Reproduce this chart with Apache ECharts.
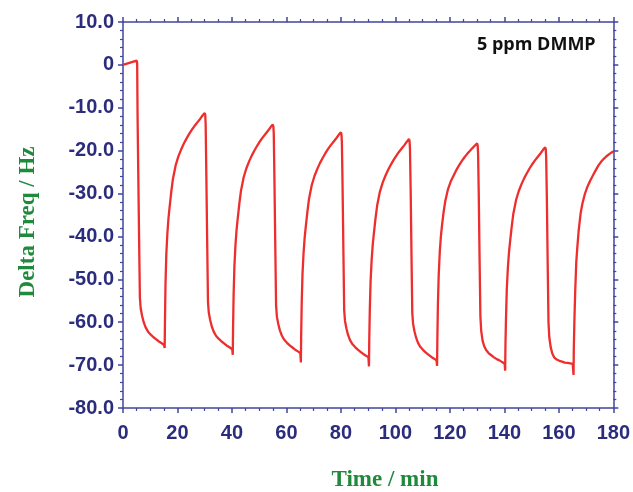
<!DOCTYPE html>
<html>
<head>
<meta charset="utf-8">
<script src="https://cdn.jsdelivr.net/npm/echarts@6/dist/echarts.min.js"></script>
<style>html,body{margin:0;padding:0;background:#fff}#chart{width:633px;height:492px}</style>
</head>
<body>
<div id="chart"></div>
<script>
// Time (min) / Delta frequency (Hz) pairs, one array per exposure/recovery cycle
var baseline = [[0,0],[5.0,1.0]];
var cycle1 = [[5.2,0.5],[5.35,-12],[5.6,-25],[5.9,-40],[6.2,-54.3],[6.5,-56.8],[7.0,-58.5],[7.6,-60.0],[8.3,-61.2],[9.2,-62.2],[10.2,-62.9],[11.2,-63.5],[12.2,-64.0],[13.2,-64.5],[14.2,-64.9],[15.1,-65.3],[15.3,-66.0],
  [15.4,-60],[15.6,-51.2],[15.9,-44.2],[16.3,-39.2],[16.7,-35.7],[17.1,-33.2],[17.7,-29.7],[18.3,-26.7],[19.3,-23.5],[20.3,-21.4],[21.3,-19.8],[22.3,-18.4],[23.3,-17.2],[24.3,-16.1],[25.3,-15.1],[26.3,-14.2],[27.3,-13.4],[28.3,-12.6],[29.2,-11.8],[30.0,-11.2]];
var cycle2 = [[30.2,-11.7],[30.35,-14],[30.6,-26],[30.9,-41],[31.2,-55.3],[31.5,-57.8],[32.0,-59.5],[32.6,-61.0],[33.3,-62.2],[34.2,-63.2],[35.2,-63.9],[36.2,-64.5],[37.2,-65.0],[38.2,-65.5],[39.2,-65.9],[40.1,-66.3],[40.3,-67.6],
  [40.4,-61.6],[40.6,-53.9],[40.9,-46.9],[41.3,-41.9],[41.7,-38.4],[42.1,-35.9],[42.7,-32.4],[43.3,-29.4],[44.3,-26.2],[45.3,-24.1],[46.3,-22.5],[47.3,-21.1],[48.3,-19.9],[49.3,-18.8],[50.3,-17.8],[51.3,-16.9],[52.3,-16.1],[53.3,-15.3],[54.2,-14.5],[55.0,-13.9]];
var cycle3 = [[55.2,-14.4],[55.35,-16],[55.6,-27],[55.9,-42],[56.2,-56.2],[56.5,-58.7],[57.0,-60.4],[57.6,-61.9],[58.3,-63.1],[59.2,-64.1],[60.2,-64.8],[61.2,-65.4],[62.2,-65.9],[63.2,-66.4],[64.2,-66.8],[65.1,-67.2],[65.3,-69.4],
  [65.4,-63.4],[65.6,-55.7],[65.9,-48.7],[66.3,-43.7],[66.7,-40.2],[67.1,-37.7],[67.7,-34.2],[68.3,-31.2],[69.3,-28.0],[70.3,-25.9],[71.3,-24.3],[72.3,-22.9],[73.3,-21.7],[74.3,-20.6],[75.3,-19.6],[76.3,-18.7],[77.3,-17.9],[78.3,-17.1],[79.2,-16.3],[80.0,-15.7]];
var cycle4 = [[80.2,-16.2],[80.35,-18],[80.6,-28],[80.9,-43],[81.2,-57.2],[81.5,-59.7],[82.0,-61.4],[82.6,-62.9],[83.3,-64.1],[84.2,-65.1],[85.2,-65.8],[86.2,-66.4],[87.2,-66.9],[88.2,-67.4],[89.2,-67.8],[90.1,-68.2],[90.3,-70.3],
  [90.4,-64.3],[90.6,-57.3],[90.9,-50.3],[91.3,-45.3],[91.7,-41.8],[92.1,-39.3],[92.7,-35.8],[93.3,-32.8],[94.3,-29.6],[95.3,-27.5],[96.3,-25.9],[97.3,-24.5],[98.3,-23.3],[99.3,-22.2],[100.3,-21.2],[101.3,-20.3],[102.3,-19.5],[103.3,-18.7],[104.2,-17.9],[105.0,-17.3]];
var cycle5 = [[105.2,-17.8],[105.35,-19.5],[105.6,-29],[105.9,-44],[106.2,-57.9],[106.5,-60.4],[107.0,-62.1],[107.6,-63.6],[108.3,-64.8],[109.2,-65.8],[110.2,-66.5],[111.2,-67.1],[112.2,-67.6],[113.2,-68.1],[114.2,-68.5],[115.1,-68.9],[115.3,-70.2],
  [115.4,-64.2],[115.6,-56],[115.9,-49],[116.3,-43.5],[116.7,-40],[117.1,-37.5],[117.7,-34.3],[118.3,-31.8],[119.3,-29.0],[120.3,-27.2],[121.3,-25.9],[122.3,-24.6],[123.3,-23.5],[124.3,-22.5],[125.3,-21.6],[126.3,-20.8],[127.3,-20.1],[128.3,-19.4],[129.2,-18.8],[130.0,-18.3]];
var cycle6 = [[130.2,-18.8],[130.35,-20.5],[130.6,-30],[130.9,-45],[131.2,-58.6],[131.5,-62.0],[132.0,-64.3],[132.6,-65.6],[133.3,-66.5],[134.2,-67.2],[135.2,-67.7],[136.2,-68.2],[137.2,-68.6],[138.2,-68.9],[139.2,-69.3],[140.1,-69.6],[140.3,-71.3],
  [140.4,-65.3],[140.6,-59.2],[140.9,-52.2],[141.3,-47.2],[141.7,-43.7],[142.1,-41.2],[142.7,-37.7],[143.3,-34.7],[144.3,-31.5],[145.3,-29.4],[146.3,-27.8],[147.3,-26.4],[148.3,-25.2],[149.3,-24.1],[150.3,-23.1],[151.3,-22.2],[152.3,-21.4],[153.3,-20.6],[154.2,-19.8],[155.0,-19.2]];
var cycle7 = [[155.2,-19.7],[155.35,-21.5],[155.6,-31],[155.9,-46],[156.2,-60],[156.5,-63.5],[157.0,-65.8],[157.6,-67.3],[158.3,-68.2],[159.2,-68.7],[160.2,-69.0],[161.2,-69.2],[162.2,-69.4],[163.2,-69.5],[164.2,-69.6],[165.1,-69.7],[165.4,-72.3],
  [165.5,-66],[165.7,-60],[166.0,-53],[166.4,-46],[166.8,-42.4],[167.3,-38.5],[168.0,-34.6],[168.7,-32.2],[169.6,-30],[170.5,-28.4],[171.5,-27],[172.5,-25.8],[173.5,-24.6],[174.5,-23.5],[175.5,-22.6],[176.5,-21.9],[177.5,-21.3],[178.5,-20.8],[179.4,-20.4],[180.0,-20.2]];

var xTicks = {min: 0, max: 180, step: 20};
var yTicks = {min: -80, max: 10, step: 10};
var xTitle = 'Time / min';
var yTitle = 'Delta Freq / Hz';
var note = '5 ppm DMMP';

var data = [].concat(baseline, cycle1, cycle2, cycle3, cycle4, cycle5, cycle6, cycle7);

var axisColor = '#4044a0';
var labelColor = '#2b2d7c';
var labelFont = {color: labelColor, fontFamily: 'Liberation Sans, Arial, sans-serif', fontWeight: 'bold', fontSize: 20};

function xAxisDef(pos, showLabel) {
  return {
    type: 'value', position: pos, min: xTicks.min, max: xTicks.max, interval: xTicks.step,
    axisLine: {show: true, onZero: false, lineStyle: {color: axisColor, width: 1.5}},
    axisTick: {show: true, inside: false, length: 5, lineStyle: {color: axisColor, width: 1.5}},
    minorTick: {show: true, splitNumber: 4, length: 3, lineStyle: {color: axisColor, width: 1.2}},
    splitLine: {show: false},
    axisLabel: Object.assign({show: showLabel, margin: 15}, labelFont)
  };
}
function yAxisDef(pos, showLabel) {
  return {
    type: 'value', position: pos, min: yTicks.min, max: yTicks.max, interval: yTicks.step,
    axisLine: {show: true, onZero: false, lineStyle: {color: axisColor, width: 1.5}},
    axisTick: {show: true, inside: false, length: 5, lineStyle: {color: axisColor, width: 1.5}},
    minorTick: {show: true, splitNumber: 5, length: 3, lineStyle: {color: axisColor, width: 1.2}},
    splitLine: {show: false},
    axisLabel: Object.assign({show: showLabel, margin: 9,
      formatter: function (v) { return v === 0 ? '0' : v.toFixed(1); }}, labelFont)
  };
}

var chart = echarts.init(document.getElementById('chart'), null, {renderer: 'canvas'});
chart.setOption({
  animation: false,
  backgroundColor: '#ffffff',
  grid: {left: 123, right: 17, top: 22, bottom: 84, containLabel: false},
  xAxis: [xAxisDef('bottom', true), xAxisDef('top', false)],
  yAxis: [yAxisDef('left', true), yAxisDef('right', false)],
  graphic: [
    {type: 'text', left: 477, top: 36, style: {text: note, fill: '#111111', font: 'bold 18px "Open Sans", "Noto Sans", sans-serif'}},
    {type: 'text', x: 385, y: 480, style: {text: xTitle, fill: '#1f8a3c', font: 'bold 23px "Liberation Serif", "Times New Roman", serif', align: 'center', verticalAlign: 'middle'}},
    {type: 'text', x: 28, y: 222, rotation: Math.PI / 2, style: {text: yTitle, fill: '#1f8a3c', font: 'bold 23px "Liberation Serif", "Times New Roman", serif', align: 'center', verticalAlign: 'middle'}}
  ],
  series: [{
    type: 'line', xAxisIndex: 0, yAxisIndex: 0, data: data, showSymbol: false, symbol: 'none',
    lineStyle: {color: '#ee2d2d', width: 2.3}
  }]
});
</script>
</body>
</html>
